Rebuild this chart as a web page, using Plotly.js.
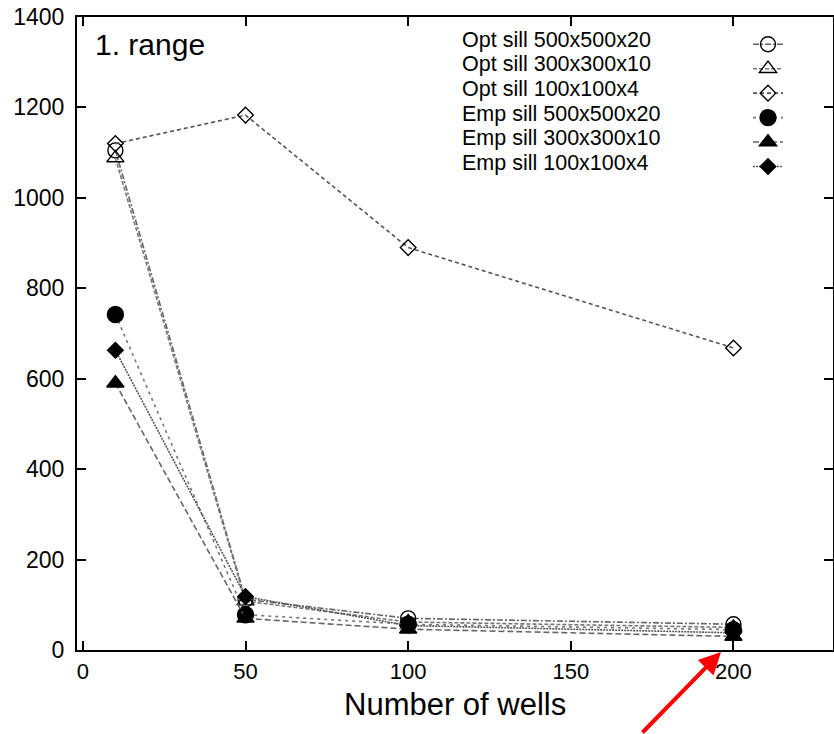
<!DOCTYPE html>
<html>
<head>
<meta charset="utf-8">
<script src="https://cdn.plot.ly/plotly-3.0.1.min.js"></script>
<style>html,body{margin:0;padding:0;background:#fff;}#chart{width:834px;height:734px;}</style>
</head>
<body>
<div id="chart"></div>
<script>
const wells = [10, 50, 100, 200];
const optSill500 = [1105, 112, 70, 57];
const optSill300 = [1088, 108, 62, 50];
const optSill100 = [1120, 1183, 890, 668];
const empSill500 = [742, 78, 57, 45];
const empSill300 = [590, 70, 46, 30];
const empSill100 = [663, 118, 54, 38];
const seriesNames = ["Opt sill 500x500x20", "Opt sill 300x300x10", "Opt sill 100x100x4",
                     "Emp sill 500x500x20", "Emp sill 300x300x10", "Emp sill 100x100x4"];
const xTicks = [0, 50, 100, 150, 200];
const yTicks = [0, 200, 400, 600, 800, 1000, 1200, 1400];

const styles = [
  {symbol: "circle-open", size: 15, color: "#666", dash: "6px,2px,2px,2px"},
  {symbol: "triangle-up-open", size: 15, color: "#777", dash: "4px,2px"},
  {symbol: "diamond-open", size: 12, color: "#555", dash: "4px,3px"},
  {symbol: "circle", size: 16, color: "#777", dash: "3px,4px"},
  {symbol: "triangle-up", size: 15, color: "#666", dash: "6px,3px"},
  {symbol: "diamond", size: 12, color: "#555", dash: "2px,1px"}
];
const allY = [optSill500, optSill300, optSill100, empSill500, empSill300, empSill100];

const traces = allY.map((ys, i) => ({
  x: wells, y: ys, name: "", type: "scatter", mode: "lines+markers",
  meta: seriesNames[i],
  cliponaxis: false,
  line: {color: styles[i].color, width: 1.6, dash: styles[i].dash},
  marker: {symbol: styles[i].symbol, size: styles[i].size, color: "#000",
           line: {color: "#000", width: 1.4}}
}));

const font = "Liberation Sans, Arial, sans-serif";
const legendRowPx = 24.5;
const legendTopPx = 40;
const plotTop = 17, plotH = 633, plotL = 77, plotW = 756;

const legendText = seriesNames.map((n, i) => ({
  xref: "paper", yref: "paper",
  x: (460 - plotL) / plotW,
  y: (plotTop + plotH - (legendTopPx + i * legendRowPx)) / plotH,
  xanchor: "left", yanchor: "middle", showarrow: false,
  text: n, font: {size: 21.5, family: font, color: "#000"}
}));

const layout = {
  width: 834, height: 734,
  margin: {l: plotL, r: 1, t: plotTop, b: 84, autoexpand: false},
  paper_bgcolor: "#fff", plot_bgcolor: "#fff",
  font: {family: font, color: "#000"},
  showlegend: true,
  legend: {x: (748 - plotL) / plotW, y: (plotTop + plotH - 27) / plotH, xanchor: "left", yanchor: "top",
           bgcolor: "rgba(0,0,0,0)", font: {size: 16.5, family: font, color: "#000"},
           itemwidth: 30},
  xaxis: {
    range: [-1.8, 230.6], tickvals: xTicks, ticktext: xTicks.map(String),
    showgrid: false, zeroline: false, showline: true, linecolor: "#000", linewidth: 2,
    mirror: "allticks", ticks: "inside", ticklen: 9, tickwidth: 2, tickcolor: "#000",
    tickfont: {size: 22, family: font, color: "#000"}, ticklabelstandoff: 1
  },
  yaxis: {
    range: [0, 1400], tickvals: yTicks, ticktext: yTicks.map(String),
    showgrid: false, zeroline: false, showline: true, linecolor: "#000", linewidth: 2,
    mirror: "allticks", ticks: "inside", ticklen: 9, tickwidth: 2, tickcolor: "#000",
    tickfont: {size: 23, family: font, color: "#000"}, ticklabelstandoff: 6
  },
  annotations: [
    {xref: "paper", yref: "paper", x: 0.021, y: 0.985, xanchor: "left", yanchor: "top",
     text: "1. range", showarrow: false, font: {size: 30, family: font, color: "#000"}},
    {xref: "paper", yref: "paper", x: 0.5, y: (plotTop + plotH - 704) / plotH,
     xanchor: "center", yanchor: "middle", showarrow: false,
     text: "Number of wells", font: {size: 31, family: font, color: "#000"}},
    {xref: "paper", yref: "paper", x: (721 - plotL) / plotW, y: -2 / plotH,
     ax: -80, ay: 92, axref: "pixel", ayref: "pixel",
     text: "", showarrow: true, arrowhead: 2, arrowsize: 1.1, arrowwidth: 4, arrowcolor: "#ff0000"}
  ].concat(legendText)
};

Plotly.newPlot("chart", traces, layout, {displayModeBar: false, staticPlot: true});
</script>
</body>
</html>
